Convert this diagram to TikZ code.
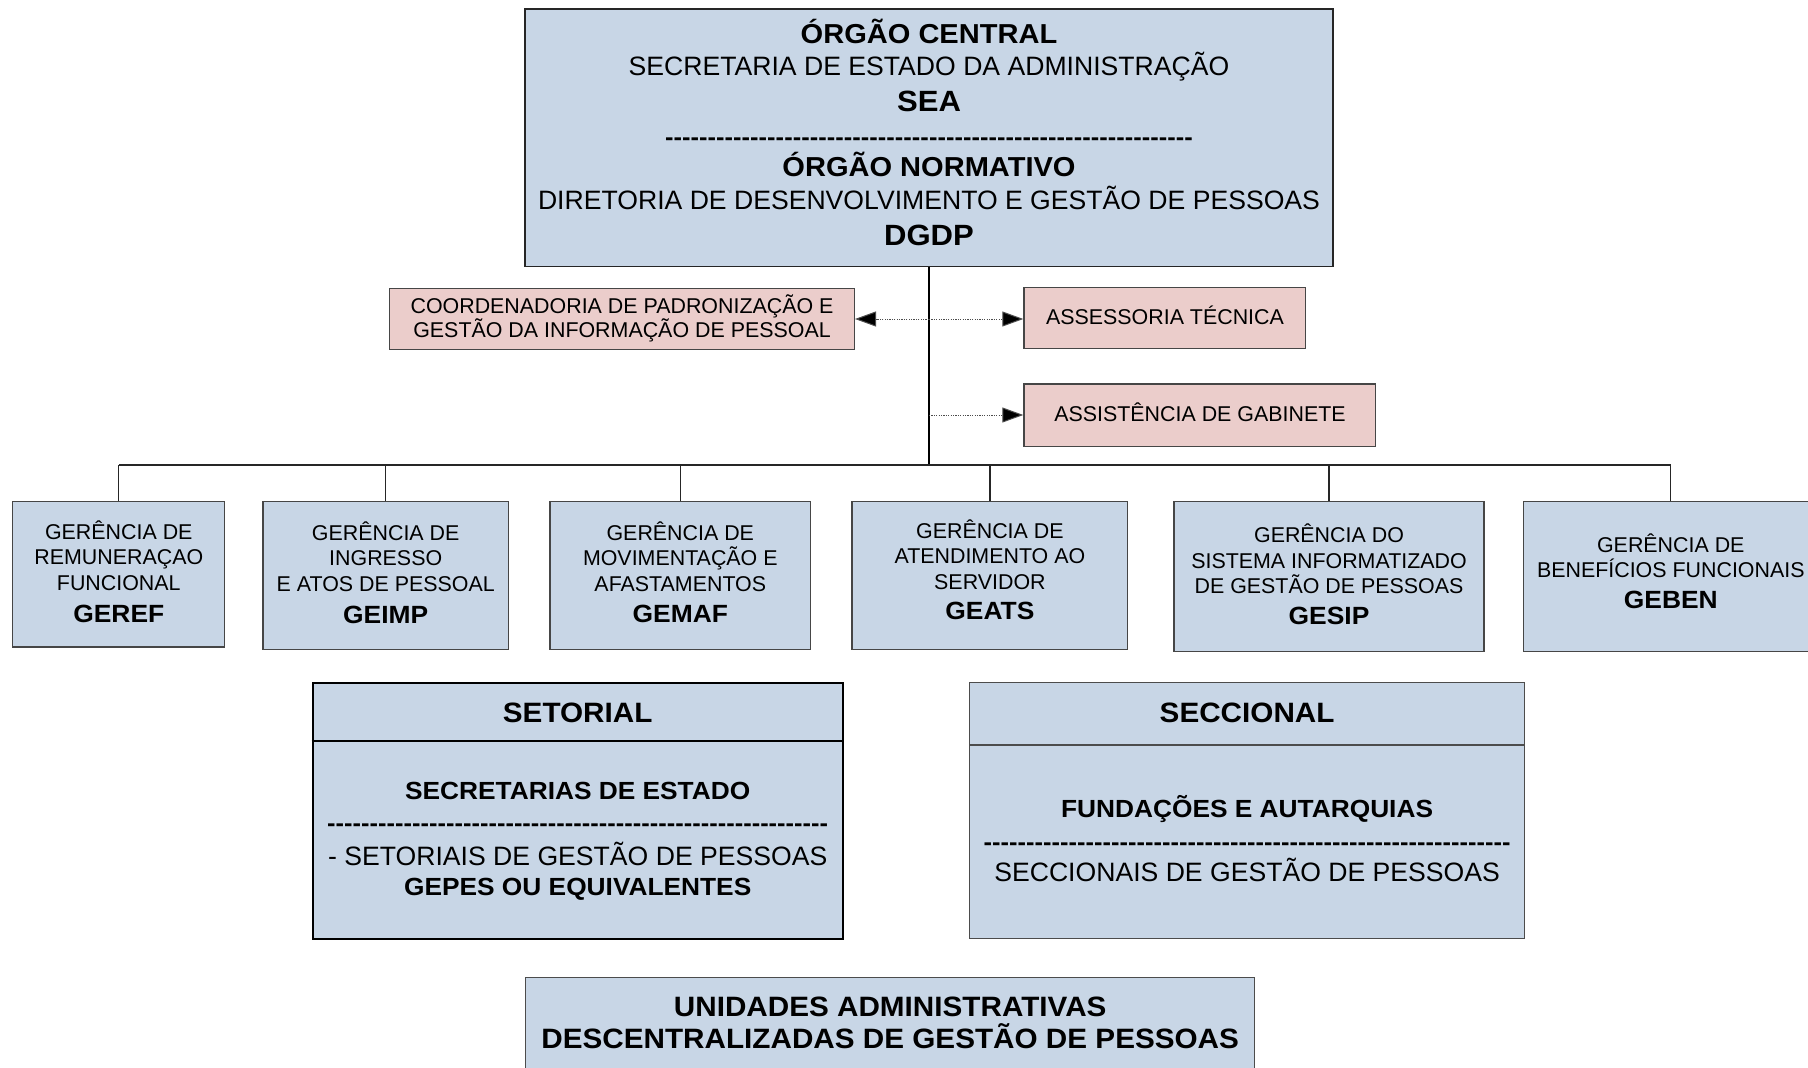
\documentclass[tikz,border=0pt]{standalone}
\usepackage{fontspec}
\setmainfont{Liberation Sans}[BoldFeatures={FakeStretch=1.06}]
\usetikzlibrary{arrows.meta}
\definecolor{boxblue}{RGB}{200,214,230}
\definecolor{boxpink}{RGB}{235,205,203}
\definecolor{edgegray}{RGB}{70,70,70}
\newcommand\fsz[2]{\fontsize{#1pt}{#2pt}\selectfont}
\newcommand\dashrule[1]{\hbox to #1pt{\xleaders\hbox{-}\hfill}}
\tikzset{
  bluebox/.style={rectangle, draw=edgegray, line width=1.3pt, fill=boxblue, inner sep=0pt},
  pinkbox/.style={rectangle, draw=edgegray, line width=1.2pt, fill=boxpink, inner sep=0pt},
  txt/.style={anchor=base, inner sep=0pt, text=black},
  topreg/.style={txt, font=\fsz{26.6}{30}},
  topbold/.style={txt, font=\bfseries\fsz{27.4}{30}},
  topbig/.style={txt, font=\bfseries\fsz{29.3}{32}},
  smallreg/.style={txt, font=\fsz{21.4}{25}},
  gbold/.style={txt, font=\bfseries\fsz{24.9}{28}},
  secthead/.style={txt, font=\bfseries\fsz{28}{30}},
  sectbold/.style={txt, font=\bfseries\fsz{24.8}{28}},
  sectreg/.style={txt, font=\fsz{26.6}{30}},
  dashtxt/.style={txt, font=\bfseries\fsz{24}{28}},
  trunkline/.style={draw=black, line width=2pt},
  busline/.style={draw=black!85, line width=1.2pt},
  dotarrow/.style={draw=black!70, line width=1pt, dash pattern=on 1.2pt off 1.2pt,
    -{Triangle[length=21pt,width=15pt,fill=black]}},
}
\begin{document}
\begin{tikzpicture}[x=1pt,y=-1pt]
\path[use as bounding box, fill=white] (0,0) rectangle (1808,1068);
\clip (0,0) rectangle (1808,1068);

% ---------- top box ----------
\node[bluebox, draw=black!85, line width=1.5pt, minimum width=808pt, minimum height=257.2pt] (top) at (929,137.8) {};
\node[topbold] (oc) at (929,43) {ÓRGÃO CENTRAL};
\node[topreg] (sead) at (929,75) {SECRETARIA DE ESTADO DA ADMINISTRAÇÃO};
\node[topbig] (sea) at (929,111) {SEA};
\node[dashtxt] (topdash) at (929,145) {\dashrule{528}};
\node[topbold] (on) at (929,176) {ÓRGÃO NORMATIVO};
\node[topreg] (ddgp) at (929,209) {DIRETORIA DE DESENVOLVIMENTO E GESTÃO DE PESSOAS};
\node[topbig] (dgdp) at (929,245) {DGDP};

% ---------- staff boxes ----------
\node[pinkbox, minimum width=464.7pt, minimum height=61.1pt] (coord) at (622.05,318.85) {};
\node[smallreg] (coorda) at (622,313.2) {COORDENADORIA DE PADRONIZAÇÃO E};
\node[smallreg] (coordb) at (622,337.5) {GESTÃO DA INFORMAÇÃO DE PESSOAL};

\node[pinkbox, minimum width=281.4pt, minimum height=61.1pt] (assess) at (1164.6,317.65) {};
\node[smallreg] (assesst) at (1165,324.8) {ASSESSORIA TÉCNICA};

\node[pinkbox, minimum width=351.7pt, minimum height=62.2pt] (assist) at (1199.75,415.1) {};
\node[smallreg] (assistt) at (1200,421.8) {ASSISTÊNCIA DE GABINETE};

% ---------- trunk, bus and staff arrows ----------
\coordinate (busL) at (118.8,465);
\coordinate (busR) at (1670.8,465);
\coordinate (hub) at (929,465);
\coordinate (tA) at (929,319);
\coordinate (tB) at (929,415);
\draw[trunkline] (top.south) -- (hub);
\draw[busline] (busL) -- (busR);
\draw[dotarrow] (tA) -- (coord.east |- tA);
\draw[dotarrow] (tA) -- (assess.west |- tA);
\draw[dotarrow] (tB) -- (assist.west |- tB);

% ---------- gerencias ----------
\node[bluebox, minimum width=212pt, minimum height=145.3pt] (g1) at (118.8,574.3) {};
\node[bluebox, minimum width=245.6pt, minimum height=147.6pt] (g2) at (385.7,575.4) {};
\node[bluebox, minimum width=260.6pt, minimum height=147.6pt] (g3) at (680.3,575.4) {};
\node[bluebox, minimum width=275.6pt, minimum height=147.6pt] (g4) at (989.9,575.4) {};
\node[bluebox, minimum width=310pt, minimum height=150pt] (g5) at (1329,576.5) {};
\node[bluebox, minimum width=295.2pt, minimum height=150pt] (g6) at (1670.8,576.5) {};
\foreach \g in {g1,g2,g3,g4,g5,g6} \draw[busline] (\g.north) -- (\g.north |- busL);

\node[smallreg] (g1a) at (118.8,539.3) {GERÊNCIA DE};
\node[smallreg] (g1b) at (118.8,564.8) {REMUNERAÇAO};
\node[smallreg] (g1c) at (118.8,590.3) {FUNCIONAL};
\node[gbold]    (g1d) at (118.8,622) {GEREF};

\node[smallreg] (g2a) at (385.7,540.4) {GERÊNCIA DE};
\node[smallreg] (g2b) at (385.7,565.9) {INGRESSO};
\node[smallreg] (g2c) at (385.7,591.4) {E ATOS DE PESSOAL};
\node[gbold]    (g2d) at (385.7,623.2) {GEIMP};

\node[smallreg] (g3a) at (680.3,540.4) {GERÊNCIA DE};
\node[smallreg] (g3b) at (680.3,565.9) {MOVIMENTAÇÃO E};
\node[smallreg] (g3c) at (680.3,591.4) {AFASTAMENTOS};
\node[gbold]    (g3d) at (680.3,622.5) {GEMAF};

\node[smallreg] (g4a) at (989.9,538.1) {GERÊNCIA DE};
\node[smallreg] (g4b) at (989.9,563.6) {ATENDIMENTO AO};
\node[smallreg] (g4c) at (989.9,589.1) {SERVIDOR};
\node[gbold]    (g4d) at (989.9,619.7) {GEATS};

\node[smallreg] (g5a) at (1329,542.7) {GERÊNCIA DO};
\node[smallreg] (g5b) at (1329,568.2) {SISTEMA INFORMATIZADO};
\node[smallreg] (g5c) at (1329,593.7) {DE GESTÃO DE PESSOAS};
\node[gbold]    (g5d) at (1329,624.4) {GESIP};

\node[smallreg] (g6a) at (1670.8,552) {GERÊNCIA DE};
\node[smallreg] (g6b) at (1670.8,577.5) {BENEFÍCIOS FUNCIONAIS};
\node[gbold]    (g6c) at (1670.8,608.2) {GEBEN};

% ---------- setorial ----------
\node[bluebox, draw=black, line width=2pt, minimum width=530.5pt, minimum height=256pt] (setor) at (577.75,810.6) {};
\coordinate (setdiv) at (0,741.4);
\draw[black, line width=2pt] (setor.west |- setdiv) -- (setor.east |- setdiv);
\node[secthead] (setorh) at (577.7,722) {SETORIAL};
\node[sectbold] (setora) at (577.7,799.5) {SECRETARIAS DE ESTADO};
\node[dashtxt]  (setordash) at (577.7,831) {\dashrule{501}};
\node[sectreg]  (setorb) at (577.7,865) {- SETORIAIS DE GESTÃO DE PESSOAS};
\node[sectbold] (setorc) at (577.7,895) {GEPES OU EQUIVALENTES};

% ---------- seccional ----------
\node[bluebox, draw=black!70, minimum width=554.6pt, minimum height=256pt] (secc) at (1247.1,810.6) {};
\coordinate (secdiv) at (0,745);
\draw[black!70, line width=1.5pt] (secc.west |- secdiv) -- (secc.east |- secdiv);
\node[secthead] (secch) at (1247.1,722) {SECCIONAL};
\node[sectbold] (secca) at (1247.1,817) {FUNDAÇÕES E AUTARQUIAS};
\node[dashtxt]  (seccdash) at (1247.1,850) {\dashrule{527}};
\node[sectreg]  (seccb) at (1247.1,881) {SECCIONAIS DE GESTÃO DE PESSOAS};

% ---------- unidades ----------
\node[bluebox, draw=black!70, minimum width=728.8pt, minimum height=122.2pt] (unid) at (890.2,1038.9) {};
\node[secthead] (unida) at (890.2,1016) {UNIDADES ADMINISTRATIVAS};
\node[secthead] (unidb) at (890.2,1048.5) {DESCENTRALIZADAS DE GESTÃO DE PESSOAS};
\end{tikzpicture}
\end{document}
